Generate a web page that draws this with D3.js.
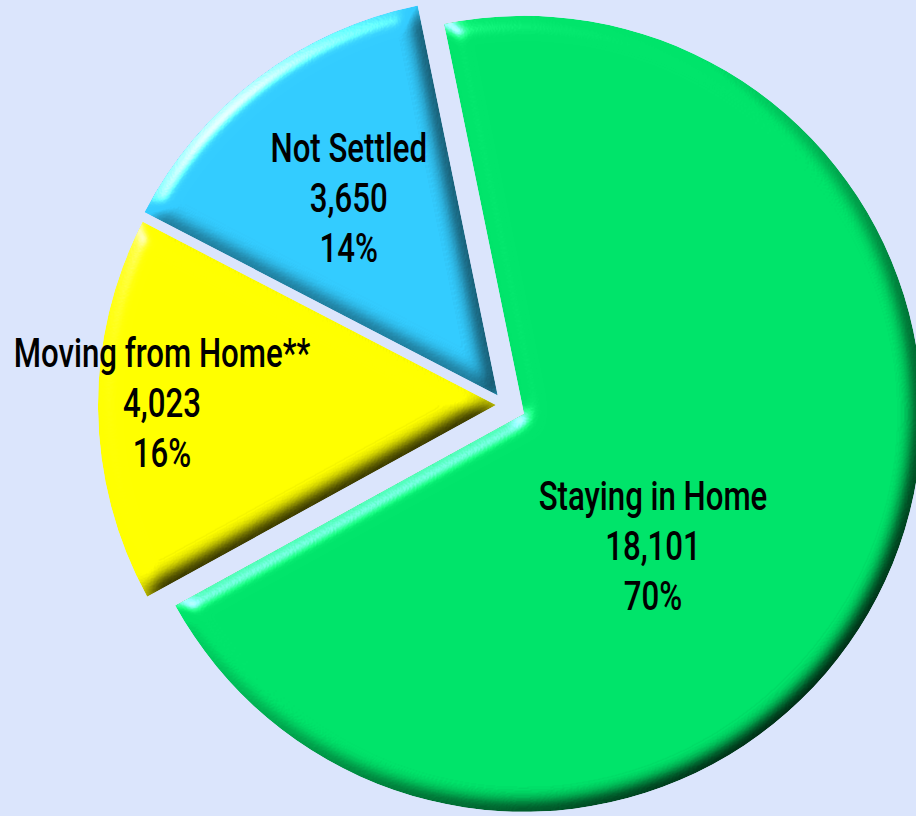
<!DOCTYPE html>
<html lang="en">
<head>
    <meta charset="UTF-8">
    <title>Pie</title>
    <script src="https://d3js.org/d3.v7.min.js"></script>
    <style>
        body { margin: 0; background: #dbe5fc; }
        text {
            font-family: Roboto, 'DejaVu Sans', sans-serif;
            font-size: 40px;
            font-weight: 500;
            fill: #000;
        }
    </style>
</head>
<body>
<script>

    const width  = 916;
    const height = 816;

    const categories = ['Staying in Home', 'Moving from Home**', 'Not Settled'];
    const counts     = [18101, 4023, 3650];
    const percents   = ['70%', '16%', '14%'];
    const colors     = ['#00e46a', '#ffff00', '#33ccff'];

    // pie layout (start angle picked so the slices sit as in the picture)
    const cx = 505, cy = 405, radius = 398;
    const explode = [21, 9, 12];
    const labelPos = [{r: 185, da: 21}, {r: 334, da: 1}, {r: 247, da: 0}];

    const svg = d3.select("body")
            .append("svg")
            .attr("width", width)
            .attr("height", height);

    const defs = svg.append("defs");
    const f = defs.append("filter")
            .attr("id", "bevel")
            .attr("color-interpolation-filters", "sRGB")
            .attr("x", "-5%").attr("y", "-5%")
            .attr("width", "110%").attr("height", "110%");
    f.append("feGaussianBlur").attr("in", "SourceAlpha").attr("stdDeviation", 10).attr("result", "blur");
    f.append("feDiffuseLighting").attr("in", "blur").attr("surfaceScale", 9)
            .attr("diffuseConstant", 1.42).attr("lighting-color", "#fff").attr("result", "diff")
        .append("feDistantLight").attr("azimuth", 225).attr("elevation", 45);
    f.append("feSpecularLighting").attr("in", "blur").attr("surfaceScale", 9)
            .attr("specularConstant", 1).attr("specularExponent", 45).attr("lighting-color", "#fff").attr("result", "spec")
        .append("feDistantLight").attr("azimuth", 225).attr("elevation", 30);
    f.append("feComposite").attr("in", "SourceGraphic").attr("in2", "diff")
            .attr("operator", "arithmetic").attr("k1", 1).attr("k2", 0).attr("k3", 0).attr("k4", 0).attr("result", "shaded");
    f.append("feComposite").attr("in", "spec").attr("in2", "SourceAlpha").attr("operator", "in").attr("result", "specIn");
    f.append("feComposite").attr("in", "shaded").attr("in2", "specIn")
            .attr("operator", "arithmetic").attr("k1", 0).attr("k2", 1).attr("k3", 0.7).attr("k4", 0).attr("result", "lit");
    f.append("feComposite").attr("in", "lit").attr("in2", "SourceAlpha").attr("operator", "in");

    const pie = d3.pie()
            .sort(null)
            .startAngle(-11.6 * Math.PI / 180)
            .endAngle(348.4 * Math.PI / 180);

    const arc = d3.arc()
            .innerRadius(0)
            .outerRadius(radius);

    const arcs = pie(counts);

    const g = svg.append("g")
            .attr("transform", "translate(" + [cx, cy] + ")");

    const slices = g.selectAll("g.slice")
            .data(arcs)
            .enter()
            .append("g")
            .attr("class", "slice")
            .attr("transform", (d, i) => {
                const a = (d.startAngle + d.endAngle) / 2;
                return "translate(" + [Math.sin(a) * explode[i], -Math.cos(a) * explode[i]] + ")";
            });

    slices.append("path")
            .attr("d", arc)
            .style("fill", (d, i) => colors[i])
            .attr("filter", "url(#bevel)");

    const fmt = d3.format(",");

    slices.each(function (d, i) {
        const a = (d.startAngle + d.endAngle) / 2 + labelPos[i].da * Math.PI / 180;
        const x = Math.sin(a) * labelPos[i].r;
        const y = -Math.cos(a) * labelPos[i].r;
        // condensed look: squeeze the text horizontally
        const t = d3.select(this).append("text")
                .attr("text-anchor", "middle")
                .attr("transform", "translate(" + [x, y] + ") scale(0.78,1)");
        [categories[i], fmt(counts[i]), percents[i]].forEach((s, k) => {
            t.append("tspan")
                    .attr("x", 0)
                    .attr("y", (k - 1) * 50 + 14)
                    .text(s);
        });
    });

</script>
</body>
</html>
